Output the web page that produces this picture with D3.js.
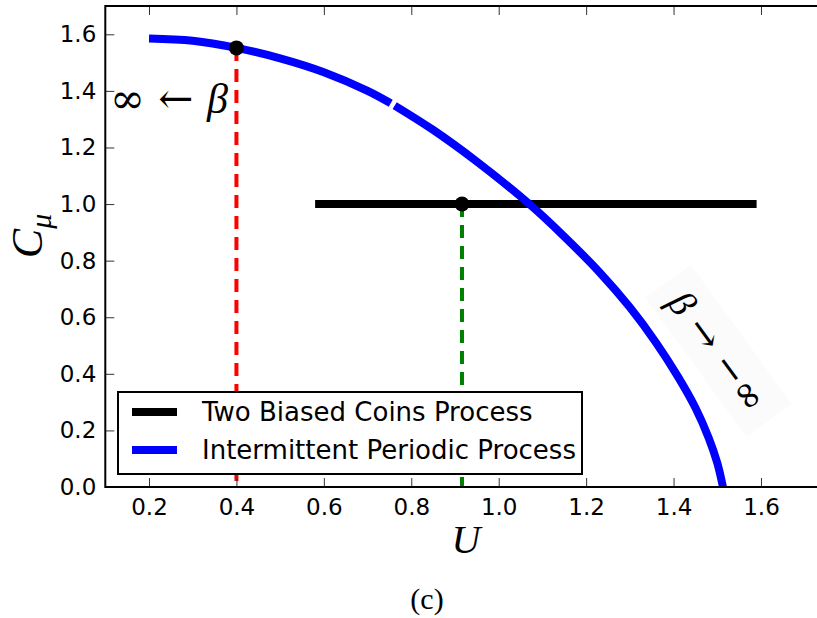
<!DOCTYPE html>
<html>
<head>
<meta charset="utf-8">
<script src="https://cdn.jsdelivr.net/npm/d3@7"></script>
<style>
    body { margin: 0; background: #fff; }
    svg { display: block; }
    .tick text { font-family: "DejaVu Sans", sans-serif; font-size: 23px; fill: #000; }
    .tick line { stroke: #333; stroke-width: 1; }
</style>
</head>
<body>
<div class="card"></div>
<script>
// values
var xTicks = [0.2, 0.4, 0.6, 0.8, 1.0, 1.2, 1.4, 1.6];
var yTicks = [0.0, 0.2, 0.4, 0.6, 0.8, 1.0, 1.2, 1.4, 1.6];

// Intermittent Periodic Process (drawn in two pieces, small gap near U=0.76)
var blueU1 = [0.20, 0.30, 0.40, 0.50, 0.60, 0.70, 0.753];
var blueC1 = [1.585, 1.577, 1.552, 1.515, 1.466, 1.400, 1.356];
var blueU2 = [0.762, 0.85, 0.95, 1.07, 1.15, 1.23, 1.30, 1.36, 1.41, 1.45, 1.48, 1.50, 1.513];
var blueC2 = [1.348, 1.262, 1.150, 1.000, 0.885, 0.760, 0.635, 0.510, 0.390, 0.280, 0.175, 0.085, 0.0];

// Two Biased Coins Process
var blackU = [0.58, 1.59];
var blackC = [1.0, 1.0];

// marked points and their drop lines
var redPoint = {u: 0.4, c: 1.552};
var greenPoint = {u: 0.916, c: 1.0};

var legendLabels = ["Two Biased Coins Process", "Intermittent Periodic Process"];
var legendColors = ["#000000", "#0000ff"];

(function (d3) {
    var svgWidth = 817, svgHeight = 618;
    var plotLeft = 105.3, plotRight = 848.4, plotTop = 6, plotBottom = 487;

    var x = d3.scaleLinear().domain([0.1, 1.8]).range([plotLeft, plotRight]);
    var y = d3.scaleLinear().domain([0, 1.7]).range([plotBottom, plotTop]);

    function zipData(us, cs) {
        return us.map(function (u, i) { return {u: u, c: cs[i]}; });
    }

    var svg = d3.select(".card").append("svg")
        .attr("width", svgWidth)
        .attr("height", svgHeight);

    var line = d3.line()
        .x(function (d) { return x(d.u); })
        .y(function (d) { return y(d.c); })
        .curve(d3.curveCatmullRom.alpha(0.5));

    //Drop lines from the markers
    svg.append("line")
        .attr("x1", x(redPoint.u)).attr("x2", x(redPoint.u))
        .attr("y1", y(redPoint.c)).attr("y2", y(0))
        .attr("stroke", "#ff0000").attr("stroke-width", 4)
        .attr("stroke-dasharray", "13,8");

    svg.append("line")
        .attr("x1", x(greenPoint.u)).attr("x2", x(greenPoint.u))
        .attr("y1", y(greenPoint.c)).attr("y2", y(0))
        .attr("stroke", "#008000").attr("stroke-width", 4)
        .attr("stroke-dasharray", "13,8");

    //Black horizontal line
    svg.append("path")
        .datum(zipData(blackU, blackC))
        .attr("d", d3.line().x(function (d) { return x(d.u); }).y(function (d) { return y(d.c); }))
        .attr("fill", "none")
        .attr("stroke", "#000")
        .attr("stroke-width", 8);

    //Blue curve
    [zipData(blueU1, blueC1), zipData(blueU2, blueC2)].forEach(function (seg) {
        svg.append("path")
            .datum(seg)
            .attr("d", line)
            .attr("fill", "none")
            .attr("stroke", "#0000ff")
            .attr("stroke-width", 8);
    });

    //Markers
    [redPoint, greenPoint].forEach(function (p) {
        svg.append("circle")
            .attr("cx", x(p.u)).attr("cy", y(p.c))
            .attr("r", 7.5)
            .attr("fill", "#000");
    });

    //Axes with inward ticks
    svg.append("g")
        .attr("transform", "translate(0," + plotBottom + ")")
        .call(d3.axisBottom(x).tickValues(xTicks).tickSizeInner(-9).tickSizeOuter(0).tickPadding(12)
            .tickFormat(d3.format(".1f")))
        .call(function (g) { g.select(".domain").remove(); });

    svg.append("g")
        .attr("transform", "translate(0," + plotTop + ")")
        .call(d3.axisTop(x).tickValues(xTicks).tickSizeInner(-9).tickSizeOuter(0).tickFormat(""))
        .call(function (g) { g.select(".domain").remove(); });

    svg.append("g")
        .attr("transform", "translate(" + plotLeft + ",0)")
        .call(d3.axisLeft(y).tickValues(yTicks).tickSizeInner(-9).tickSizeOuter(0).tickPadding(9)
            .tickFormat(d3.format(".1f")))
        .call(function (g) { g.select(".domain").remove(); });

    //Frame
    svg.append("rect")
        .attr("x", plotLeft).attr("y", plotTop)
        .attr("width", plotRight - plotLeft).attr("height", plotBottom - plotTop)
        .attr("fill", "none")
        .attr("stroke", "#000")
        .attr("stroke-width", 2);

    //Annotations
    var ann1 = svg.append("text")
        .attr("x", 110).attr("y", 113)
        .style("font-family", "'DejaVu Serif', serif")
        .style("font-size", "42px");
    ann1.append("tspan").text("\u221E \u2190 ");
    ann1.append("tspan").style("font-style", "italic").style("font-family", "'Liberation Serif', serif").text("\u03B2");

    var ann2 = svg.append("g")
        .attr("transform", "translate(717,352) rotate(54)");
    ann2.append("rect")
        .attr("x", -86).attr("y", -30)
        .attr("width", 172).attr("height", 56)
        .attr("fill", "#fbfbfb");
    var ann2Text = ann2.append("text")
        .attr("x", 0).attr("y", 12)
        .attr("text-anchor", "middle")
        .style("font-family", "'DejaVu Serif', serif")
        .style("font-size", "38px");
    ann2Text.append("tspan").style("font-style", "italic").style("font-family", "'Liberation Serif', serif").text("\u03B2");
    ann2Text.append("tspan").text(" \u2192 \u2212\u221E");

    //Legend
    var legend = svg.append("g");
    legend.append("rect")
        .attr("x", 118).attr("y", 392)
        .attr("width", 464).attr("height", 82)
        .attr("fill", "#fff")
        .attr("stroke", "#000")
        .attr("stroke-width", 2);
    legendLabels.forEach(function (label, i) {
        var ly = 412 + i * 38;
        legend.append("line")
            .attr("x1", 132).attr("x2", 177)
            .attr("y1", ly).attr("y2", ly)
            .attr("stroke", legendColors[i])
            .attr("stroke-width", 8);
        legend.append("text")
            .attr("x", 202).attr("y", ly + 9)
            .style("font-family", "'DejaVu Sans', sans-serif")
            .style("font-size", "26px")
            .text(label);
    });

    //Axis labels
    svg.append("text")
        .attr("x", 466).attr("y", 553)
        .attr("text-anchor", "middle")
        .style("font-family", "'Liberation Serif', serif")
        .style("font-style", "italic")
        .style("font-size", "40px")
        .text("U");

    var yLabel = svg.append("text")
        .attr("transform", "translate(42,236) rotate(-90)")
        .attr("text-anchor", "middle")
        .style("font-family", "'Liberation Serif', serif")
        .style("font-style", "italic")
        .style("font-size", "44px");
    yLabel.append("tspan").text("C");
    yLabel.append("tspan").attr("dy", 9).style("font-size", "30px").text("\u03BC");

    //Caption
    svg.append("text")
        .attr("x", 427).attr("y", 609)
        .attr("text-anchor", "middle")
        .style("font-family", "'Liberation Serif', serif")
        .style("font-size", "30px")
        .text("(c)");
})(d3);
</script>
</body>
</html>
